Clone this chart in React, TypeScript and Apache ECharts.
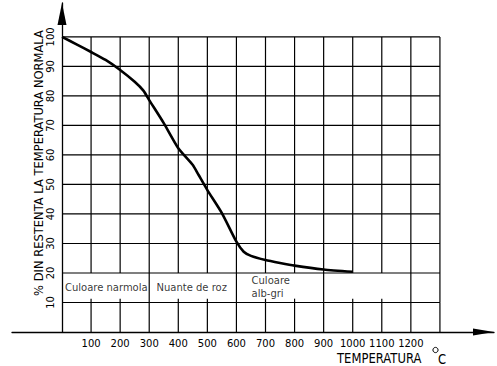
import React, { useEffect, useRef } from "react";
import * as echarts from "echarts";

// Curve: temperature (°C) vs. % remaining strength
const temps = [0, 50, 100, 150, 200, 250, 280, 300, 350, 400, 450, 470, 500, 550, 600, 625, 650, 700, 750, 800, 900, 1000];
const percent = [100, 97.5, 94.9, 92.2, 88.8, 84.8, 81.8, 78.6, 70.8, 62.3, 56.6, 53.2, 48.1, 40.3, 30.6, 27.2, 25.8, 24.4, 23.4, 22.5, 21.2, 20.4];

// Tick labels
const xTickLabels = [100, 200, 300, 400, 500, 600, 700, 800, 900, 1000, 1100, 1200];
const yTickLabels = [10, 20, 30, 40, 50, 60, 70, 80, 90, 100];

// Grid structure
const xGridLines = [100, 200, 300, 400, 500, 600, 700, 800, 900, 1000, 1100, 1200, 1300];
const yGridLines = [10, 20, 30, 40, 50, 60, 70, 80, 90, 100];
const bandSeparators = [300, 600, 900, 1200, 1300];
const bandLow = 10;
const bandHigh = 20;
const bandTick = 1.3;
const xEnd = 1300;

// Colour-band annotations
const bandNames = ["Culoare narmola", "Nuante de roz", "Culoare\nalb-gri"];
const bandX = [10, 325, 652];
const bandY = [15.2, 15.2, 15.4];

export default function App() {
  const ref = useRef<HTMLDivElement>(null);

  useEffect(() => {
    if (!ref.current) return;
    const chart = echarts.init(ref.current, null, { renderer: "svg" });

    const segments: number[][] = [];
    yGridLines.forEach((y) => segments.push([0, y, xEnd, y]));
    xGridLines.forEach((x) => {
      segments.push([x, bandHigh, x, 100]);
      segments.push([x, 0, x, bandLow]);
      if (bandSeparators.includes(x)) segments.push([x, bandLow, x, bandHigh]);
      else segments.push([x, bandLow, x, bandLow + bandTick]);
    });

    const font = "DejaVu Sans";

    chart.setOption({
      animation: false,
      backgroundColor: "#fff",
      grid: { left: 12, right: 3, top: 3, bottom: 34, containLabel: false, outerBoundsMode: "none" },
      xAxis: {
        type: "value",
        min: -172,
        max: 1486,
        splitLine: { show: false },
        axisTick: { show: false },
        axisLine: {
          show: true,
          onZero: true,
          lineStyle: { color: "#000", width: 1.3 },
          symbol: ["none", "triangle"],
          symbolSize: [7, 21],
          symbolOffset: [0, -10.5],
        },
        axisLabel: {
          customValues: xTickLabels,
          formatter: (v: number) => String(v),
          color: "#000",
          fontFamily: font,
          fontSize: 10,
          margin: 6,
        },
      },
      yAxis: {
        type: "value",
        min: 0,
        max: 111.5,
        splitLine: { show: false },
        axisTick: { show: false },
        axisLine: {
          show: true,
          onZero: true,
          lineStyle: { color: "#000", width: 1.3 },
          symbol: ["none", "triangle"],
          symbolSize: [9, 22],
          symbolOffset: [0, -11],
        },
        axisLabel: {
          customValues: yTickLabels,
          formatter: (v: number) => String(v),
          rotate: 90,
          color: "#000",
          fontFamily: font,
          fontSize: 10,
          margin: -43,
        },
      },
      graphic: [
        {
          type: "text",
          x: 39,
          y: 163,
          rotation: Math.PI / 2,
          style: {
            text: "% DIN RESTENTA LA TEMPERATURA NORMALA",
            fontFamily: font,
            fontSize: 11.5,
            fill: "#000",
            align: "center",
            verticalAlign: "middle",
          },
        },
        {
          type: "text",
          x: 337,
          y: 358,
          scaleX: 0.86,
          style: {
            text: "TEMPERATURA",
            fontFamily: font,
            fontSize: 13.5,
            fill: "#000",
            align: "left",
            verticalAlign: "middle",
          },
        },
        {
          type: "circle",
          shape: { cx: 435.5, cy: 350, r: 2.6 },
          style: { fill: "none", stroke: "#000", lineWidth: 1 },
        },
        {
          type: "text",
          x: 438,
          y: 359,
          scaleX: 0.86,
          style: {
            text: "C",
            fontFamily: font,
            fontSize: 13.5,
            fill: "#000",
            align: "left",
            verticalAlign: "middle",
          },
        },
      ],
      series: [
        {
          type: "custom",
          silent: true,
          clip: false,
          data: segments,
          encode: { x: [0, 2], y: [1, 3] },
          renderItem: (_params: any, api: any) => {
            const p1 = api.coord([api.value(0), api.value(1)]);
            const p2 = api.coord([api.value(2), api.value(3)]);
            return {
              type: "line",
              shape: { x1: p1[0], y1: p1[1], x2: p2[0], y2: p2[1] },
              style: { stroke: "#000", lineWidth: 1.2 },
            };
          },
        },
        {
          type: "line",
          data: temps.map((t, i) => [t, percent[i]]),
          smooth: 0.2,
          symbol: "none",
          lineStyle: { color: "#000", width: 2.6 },
          silent: true,
        },
        {
          type: "scatter",
          symbolSize: 0,
          silent: true,
          data: bandNames.map((n, i) => ({ name: n, value: [bandX[i], bandY[i]] })),
          label: {
            show: true,
            position: "right",
            distance: 0,
            formatter: (p: any) => p.name,
            color: "#000",
            fontFamily: font,
            fontSize: 10,
            lineHeight: 13,
            align: "left",
            verticalAlign: "middle",
          },
        },
      ],
    });

    return () => chart.dispose();
  }, []);

  return <div ref={ref} style={{ width: 497, height: 366, position: "fixed", left: 0, top: 0 }} />;
}
